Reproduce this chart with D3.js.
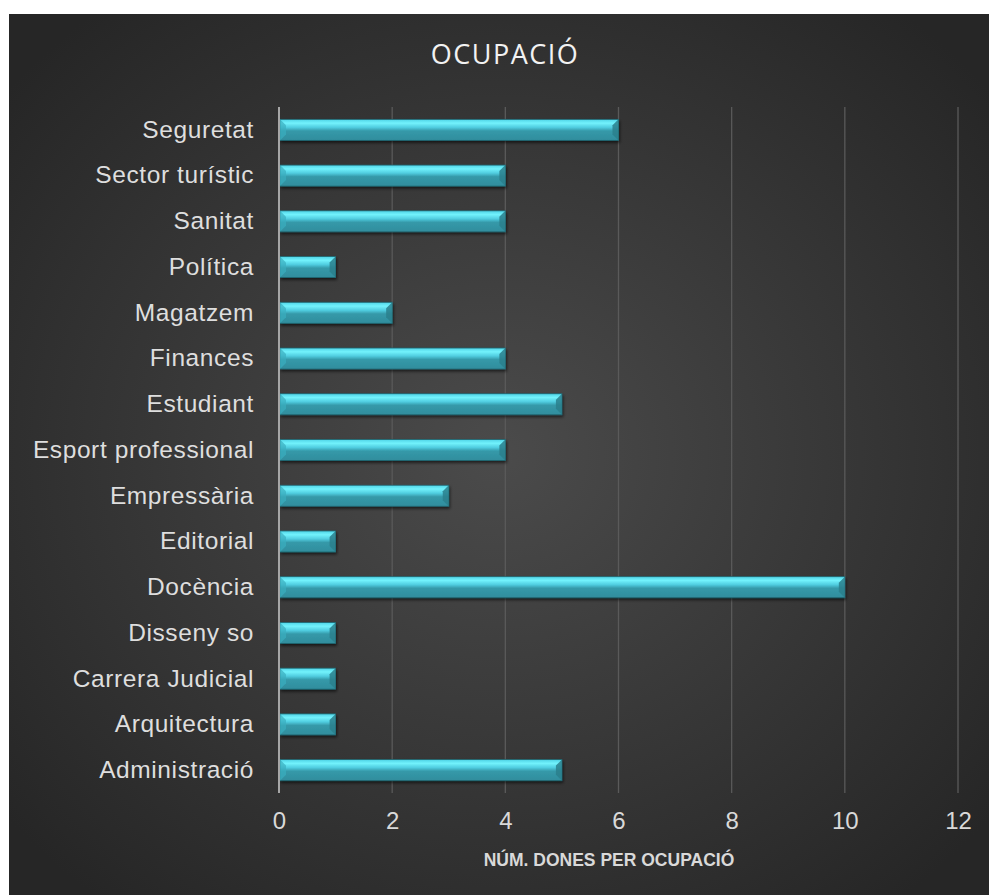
<!DOCTYPE html>
<html>
<head>
<meta charset="utf-8">
<script src="https://cdn.jsdelivr.net/npm/d3@7"></script>
<style>
  body { margin: 0; background: #fff; }
</style>
</head>
<body>
<div id="chart"></div>
<script>
// Data (top to bottom as in the picture)
var categories = ["Seguretat", "Sector turístic", "Sanitat", "Política", "Magatzem",
  "Finances", "Estudiant", "Esport professional", "Empressària", "Editorial",
  "Docència", "Disseny so", "Carrera Judicial", "Arquitectura", "Administració"];
var values = [6, 4, 4, 1, 2, 4, 5, 4, 3, 1, 10, 1, 1, 1, 5];
var xTicks = [0, 2, 4, 6, 8, 10, 12];

var svgWidth = 989;
var svgHeight = 895;

var margin = { top: 107, right: 31, bottom: 102, left: 279 };
var width = svgWidth - margin.left - margin.right;
var height = svgHeight - margin.top - margin.bottom;

var sansFont = "Liberation Sans, Arimo, Arial, sans-serif";

var svg = d3.select("#chart")
  .append("svg")
  .attr("width", svgWidth)
  .attr("height", svgHeight);

var defs = svg.append("defs");

// background gradient
var bg = defs.append("radialGradient")
  .attr("id", "bgGrad")
  .attr("cx", "50%").attr("cy", "50%").attr("r", "65%");
bg.append("stop").attr("offset", "0%").attr("stop-color", "#4b4b4b");
bg.append("stop").attr("offset", "100%").attr("stop-color", "#262626");

// bar gradient
var bar = defs.append("linearGradient")
  .attr("id", "barGrad")
  .attr("x1", 0).attr("y1", 0).attr("x2", 0).attr("y2", 1);
bar.append("stop").attr("offset", "0%").attr("stop-color", "#4fd3e6");
bar.append("stop").attr("offset", "18%").attr("stop-color", "#72f2fc");
bar.append("stop").attr("offset", "38%").attr("stop-color", "#50cde0");
bar.append("stop").attr("offset", "55%").attr("stop-color", "#3599a9");
bar.append("stop").attr("offset", "100%").attr("stop-color", "#308d9d");

var shadow = defs.append("filter").attr("id", "shadow")
  .attr("x", "-5%").attr("y", "-30%").attr("width", "110%").attr("height", "180%");
shadow.append("feDropShadow")
  .attr("dx", 1).attr("dy", 2).attr("stdDeviation", 1.5)
  .attr("flood-color", "#000").attr("flood-opacity", 0.6);

svg.append("rect")
  .attr("x", 9).attr("y", 14)
  .attr("width", svgWidth - 9).attr("height", svgHeight - 14)
  .attr("fill", "url(#bgGrad)");

// Title
svg.append("text")
  .attr("x", 505)
  .attr("y", 64)
  .attr("text-anchor", "middle")
  .attr("fill", "#f2f2f2")
  .attr("font-family", "Open Sans, sans-serif")
  .attr("font-size", "27px")
  .attr("letter-spacing", "1.5px")
  .text("OCUPACIÓ");

var chartGroup = svg.append("g")
  .attr("transform", `translate(${margin.left}, ${margin.top})`);

// Scales
var xLinearScale = d3.scaleLinear()
  .domain([0, 12])
  .range([0, width]);

var yBandScale = d3.scaleBand()
  .domain(categories)
  .range([0, height])
  .paddingInner(0.54)
  .paddingOuter(0.27);

// Gridlines
chartGroup.selectAll(".grid")
  .data(xTicks.slice(1))
  .enter()
  .append("line")
  .attr("x1", d => xLinearScale(d))
  .attr("x2", d => xLinearScale(d))
  .attr("y1", 0)
  .attr("y2", height)
  .attr("stroke", "#5a5a5a")
  .attr("stroke-width", 1.3);

// Bottom axis (labels only)
var bottomAxis = d3.axisBottom(xLinearScale)
  .tickValues(xTicks)
  .tickSize(0)
  .tickPadding(19);

var xAxisG = chartGroup.append("g")
  .attr("transform", `translate(0, ${height})`)
  .call(bottomAxis)
  .attr("font-family", sansFont)
  .attr("font-size", "24px");
xAxisG.select(".domain").remove();
xAxisG.selectAll("text").attr("fill", "#d9d9d9");

// Left axis (labels only)
var leftAxis = d3.axisLeft(yBandScale)
  .tickSize(0)
  .tickPadding(25);

var yAxisG = chartGroup.append("g").call(leftAxis)
  .attr("font-family", sansFont)
  .attr("font-size", "24.5px")
  .attr("letter-spacing", "0.6px");
yAxisG.select(".domain").remove();
yAxisG.selectAll("text").attr("fill", "#dedede");

// Bars
var bh = yBandScale.bandwidth();
var bars = chartGroup.selectAll(".bar")
  .data(categories)
  .enter()
  .append("g")
  .attr("class", "bar")
  .attr("transform", d => `translate(0, ${yBandScale(d)})`);

bars.append("rect")
  .attr("x", 1)
  .attr("y", 0)
  .attr("width", (d, i) => xLinearScale(values[i]) - 1)
  .attr("height", bh)
  .attr("fill", "url(#barGrad)")
  .attr("stroke", "#1f6670")
  .attr("stroke-width", 0.8)
  .attr("filter", "url(#shadow)");

// bevel on the right end
bars.append("path")
  .attr("d", (d, i) => {
    var w = xLinearScale(values[i]);
    var b = 6;
    return `M${w},0 L${w},${bh} L${w - b},${bh - b} L${w - b},${b} Z`;
  })
  .attr("fill", "#2a7f8c")
  .attr("opacity", 0.85);

// bevel on the left end
bars.append("path")
  .attr("d", () => {
    var b = 6;
    return `M1,0 L${1 + b},${b} L${1 + b},${bh - b} L1,${bh} Z`;
  })
  .attr("fill", "#3aaebf")
  .attr("opacity", 0.7);

// Axis line at zero
chartGroup.append("line")
  .attr("x1", 0).attr("x2", 0)
  .attr("y1", 0).attr("y2", height)
  .attr("stroke", "#a6a6a6")
  .attr("stroke-width", 2);

// Axis title
svg.append("text")
  .attr("x", 609)
  .attr("y", 866)
  .attr("text-anchor", "middle")
  .attr("fill", "#d9d9d9")
  .attr("font-family", "Liberation Sans Narrow, Liberation Sans, Arial, sans-serif")
  .attr("font-weight", "bold")
  .attr("font-size", "17.5px")
  .text("NÚM. DONES PER OCUPACIÓ");
</script>
</body>
</html>
